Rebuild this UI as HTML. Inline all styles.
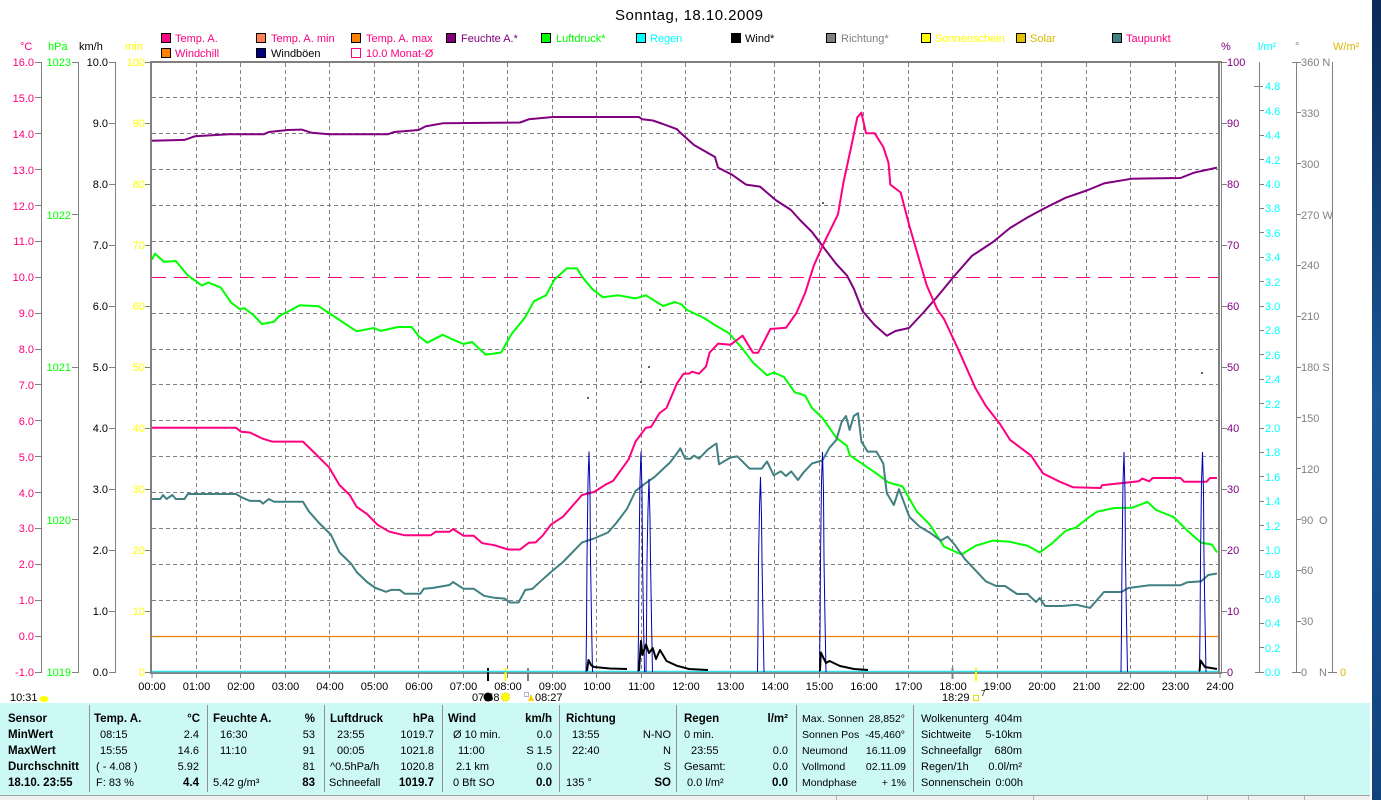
<!DOCTYPE html>
<html><head><meta charset="utf-8"><style>
html,body{margin:0;padding:0;background:#fff;}
svg{display:block;font-family:"Liberation Sans",Arial,sans-serif;}
</style></head><body>
<svg width="1381" height="800" viewBox="0 0 1381 800" xmlns="http://www.w3.org/2000/svg">
<defs><linearGradient id="bl" x1="0" y1="0" x2="0" y2="1"><stop offset="0" stop-color="#0b2a57"/><stop offset="0.5" stop-color="#1a5794"/><stop offset="1" stop-color="#10437c"/></linearGradient></defs>
<rect width="1381" height="800" fill="#fff"/>
<rect x="1372" y="0" width="9" height="800" fill="url(#bl)"/>

<!-- title -->
<text x="615" y="20" font-size="15" textLength="148" fill="#000">Sonntag, 18.10.2009</text>

<!-- legend -->
<g font-size="11" stroke-width="1">
<rect x="161.5" y="33.5" width="9" height="9" fill="#ff0080" stroke="#000"/><text x="175" y="42" fill="#ff0080">Temp. A.</text>
<rect x="256.5" y="33.5" width="9" height="9" fill="#ff8050" stroke="#000"/><text x="271" y="42" fill="#ff0080">Temp. A. min</text>
<rect x="351.5" y="33.5" width="9" height="9" fill="#ff8000" stroke="#000"/><text x="366" y="42" fill="#ff0080">Temp. A. max</text>
<rect x="446.5" y="33.5" width="9" height="9" fill="#800080" stroke="#000"/><text x="461" y="42" fill="#800080">Feuchte A.*</text>
<rect x="541.5" y="33.5" width="9" height="9" fill="#00ff00" stroke="#000"/><text x="556" y="42" fill="#00ff00">Luftdruck*</text>
<rect x="636.5" y="33.5" width="9" height="9" fill="#00ffff" stroke="#000"/><text x="650" y="42" fill="#00ffff">Regen</text>
<rect x="731.5" y="33.5" width="9" height="9" fill="#000" stroke="#000"/><text x="745" y="42" fill="#000">Wind*</text>
<rect x="826.5" y="33.5" width="9" height="9" fill="#808080" stroke="#000"/><text x="841" y="42" fill="#808080">Richtung*</text>
<rect x="921.5" y="33.5" width="9" height="9" fill="#ffff00" stroke="#000"/><text x="935" y="42" fill="#ffff00">Sonnenschein</text>
<rect x="1016.5" y="33.5" width="9" height="9" fill="#e0c000" stroke="#000"/><text x="1030" y="42" fill="#d8b800">Solar</text>
<rect x="1112.5" y="33.5" width="9" height="9" fill="#408080" stroke="#000"/><text x="1126" y="42" fill="#ff0080">Taupunkt</text>
<rect x="161.5" y="48.5" width="9" height="9" fill="#ff8000" stroke="#000"/><text x="175" y="57" fill="#ff0080">Windchill</text>
<rect x="256.5" y="48.5" width="9" height="9" fill="#000080" stroke="#000"/><text x="271" y="57" fill="#000">Windböen</text>
<rect x="351.5" y="48.5" width="9" height="9" fill="none" stroke="#ff0080"/><text x="366" y="57" fill="#ff0080">10.0 Monat-Ø</text>
</g>

<!-- unit labels -->
<g font-size="11">
<text x="20" y="50" fill="#ff0080">°C</text>
<text x="48" y="50" fill="#00ff00">hPa</text>
<text x="79" y="50" fill="#000">km/h</text>
<text x="125" y="50" fill="#ffff00">min</text>
<text x="1221" y="50" fill="#800080">%</text>
<text x="1258" y="50" fill="#00ffff">l/m²</text>
<text x="1295" y="50" fill="#808080">°</text>
<text x="1333" y="50" fill="#d8b800">W/m²</text>
</g>

<!-- grid -->
<g stroke="#808080" stroke-width="1" stroke-dasharray="4,3" shape-rendering="crispEdges">
<line x1="152" y1="97.5" x2="1218" y2="97.5"/><line x1="152" y1="133.5" x2="1218" y2="133.5"/>
<line x1="152" y1="169.5" x2="1218" y2="169.5"/><line x1="152" y1="205.5" x2="1218" y2="205.5"/>
<line x1="152" y1="241.5" x2="1218" y2="241.5"/>
<line x1="152" y1="313.5" x2="1218" y2="313.5"/><line x1="152" y1="349.5" x2="1218" y2="349.5"/>
<line x1="152" y1="384.5" x2="1218" y2="384.5"/><line x1="152" y1="420.5" x2="1218" y2="420.5"/>
<line x1="152" y1="456.5" x2="1218" y2="456.5"/><line x1="152" y1="492.5" x2="1218" y2="492.5"/>
<line x1="152" y1="528.5" x2="1218" y2="528.5"/><line x1="152" y1="564.5" x2="1218" y2="564.5"/>
<line x1="152" y1="600.5" x2="1218" y2="600.5"/>
<line x1="196.5" y1="63" x2="196.5" y2="672"/><line x1="240.5" y1="63" x2="240.5" y2="672"/>
<line x1="285.5" y1="63" x2="285.5" y2="672"/><line x1="329.5" y1="63" x2="329.5" y2="672"/>
<line x1="374.5" y1="63" x2="374.5" y2="672"/><line x1="418.5" y1="63" x2="418.5" y2="672"/>
<line x1="463.5" y1="63" x2="463.5" y2="672"/><line x1="507.5" y1="63" x2="507.5" y2="672"/>
<line x1="552.5" y1="63" x2="552.5" y2="672"/><line x1="596.5" y1="63" x2="596.5" y2="672"/>
<line x1="641.5" y1="63" x2="641.5" y2="672"/><line x1="685.5" y1="63" x2="685.5" y2="672"/>
<line x1="730.5" y1="63" x2="730.5" y2="672"/><line x1="774.5" y1="63" x2="774.5" y2="672"/>
<line x1="819.5" y1="63" x2="819.5" y2="672"/><line x1="863.5" y1="63" x2="863.5" y2="672"/>
<line x1="908.5" y1="63" x2="908.5" y2="672"/><line x1="952.5" y1="63" x2="952.5" y2="672"/>
<line x1="997.5" y1="63" x2="997.5" y2="672"/><line x1="1041.5" y1="63" x2="1041.5" y2="672"/>
<line x1="1086.5" y1="63" x2="1086.5" y2="672"/><line x1="1130.5" y1="63" x2="1130.5" y2="672"/>
<line x1="1175.5" y1="63" x2="1175.5" y2="672"/>
</g>
<line x1="152" y1="277.5" x2="1218" y2="277.5" stroke="#ff0080" stroke-width="1" stroke-dasharray="14,8" shape-rendering="crispEdges"/>

<!-- frame / axes -->
<g stroke="#808080" fill="none" shape-rendering="crispEdges">
<line x1="150" y1="62" x2="1221" y2="62" stroke-width="2"/>
<line x1="151" y1="61" x2="151" y2="674" stroke-width="2"/>
<line x1="150" y1="673" x2="1222" y2="673" stroke-width="2"/>
<line x1="1219" y1="61" x2="1219" y2="674" stroke-width="2"/>
<line x1="1221.5" y1="61" x2="1221.5" y2="674" stroke-width="1"/>
<line x1="41.5" y1="62" x2="41.5" y2="673"/>
<line x1="78.5" y1="62" x2="78.5" y2="673"/>
<line x1="115.5" y1="62" x2="115.5" y2="673"/>
<line x1="1259.5" y1="62" x2="1259.5" y2="673"/>
<line x1="1296.5" y1="62" x2="1296.5" y2="673"/>
<line x1="1332.5" y1="62" x2="1332.5" y2="673"/>
</g>
<!-- ticks -->
<g stroke="#808080" shape-rendering="crispEdges">
<path d="M35 62.5h6M35 97.5h6M35 133.5h6M35 169.5h6M35 205.5h6M35 241.5h6M35 277.5h6M35 313.5h6M35 349.5h6M35 384.5h6M35 420.5h6M35 456.5h6M35 492.5h6M35 528.5h6M35 564.5h6M35 600.5h6M35 636.5h6M35 672.5h6"/>
<path d="M72 62.5h6M72 214.5h6M72 367.5h6M72 519.5h6M72 672.5h6"/>
<path d="M109 62.5h6M109 123.5h6M109 184.5h6M109 245.5h6M109 306.5h6M109 367.5h6M109 428.5h6M109 489.5h6M109 550.5h6M109 611.5h6M109 672.5h6"/>
<path d="M145 62.5h6M145 123.5h6M145 184.5h6M145 245.5h6M145 306.5h6M145 367.5h6M145 428.5h6M145 489.5h6M145 550.5h6M145 611.5h6M145 672.5h6"/>
<path d="M1222 62.5h5M1222 123.5h5M1222 184.5h5M1222 245.5h5M1222 306.5h5M1222 367.5h5M1222 428.5h5M1222 489.5h5M1222 550.5h5M1222 611.5h5M1222 672.5h5"/>
<path d="M1254 86.5h9M1260 110.5h4M1260 135.5h4M1260 159.5h4M1260 184.5h4M1260 208.5h4M1260 232.5h4M1260 257.5h4M1260 281.5h4M1260 306.5h4M1260 330.5h4M1260 354.5h4M1260 379.5h4M1260 403.5h4M1260 428.5h4M1260 452.5h4M1260 476.5h4M1260 501.5h4M1260 525.5h4M1260 550.5h4M1260 574.5h4M1260 598.5h4M1260 623.5h4M1260 647.5h4M1255 672.5h9"/>
<path d="M1292 62.5h9M1297 112.5h4M1297 163.5h4M1297 214.5h4M1297 265.5h4M1297 316.5h4M1297 367.5h4M1297 417.5h4M1297 468.5h4M1297 519.5h4M1297 570.5h4M1297 621.5h4M1292 672.5h9"/>
<path d="M1328 672.5h9"/>
<path d="M152 673v5M196.5 673v5M240.5 673v5M285.5 673v5M329.5 673v5M374.5 673v5M418.5 673v5M463.5 673v5M507.5 673v5M552.5 673v5M596.5 673v5M641.5 673v5M685.5 673v5M730.5 673v5M774.5 673v5M819.5 673v5M863.5 673v5M908.5 673v5M997.5 673v5M1041.5 673v5M1086.5 673v5M1130.5 673v5M1175.5 673v5M1220 673v5"/>
</g>
<g shape-rendering="crispEdges">
<line x1="488" y1="668" x2="488" y2="681" stroke="#000" stroke-width="2"/>
<line x1="505.5" y1="668" x2="505.5" y2="681" stroke="#ffff00" stroke-width="2"/>
<line x1="528" y1="668" x2="528" y2="681" stroke="#808080" stroke-width="2"/>
<line x1="952.5" y1="668" x2="952.5" y2="679" stroke="#808080" stroke-width="2"/>
<line x1="976" y1="668" x2="976" y2="681" stroke="#ffff00" stroke-width="2"/>
</g>

<!-- left labels -->
<g font-size="11" text-anchor="end" fill="#ff0080">
<text x="34" y="66">16.0</text><text x="34" y="102">15.0</text><text x="34" y="138">14.0</text><text x="34" y="174">13.0</text><text x="34" y="210">12.0</text><text x="34" y="245">11.0</text><text x="34" y="281">10.0</text><text x="34" y="317">9.0</text><text x="34" y="353">8.0</text><text x="34" y="389">7.0</text><text x="34" y="425">6.0</text><text x="34" y="461">5.0</text><text x="34" y="497">4.0</text><text x="34" y="532">3.0</text><text x="34" y="568">2.0</text><text x="34" y="604">1.0</text><text x="34" y="640">0.0</text><text x="34" y="676">-1.0</text>
</g>
<g font-size="11" text-anchor="end" fill="#00ff00">
<text x="71" y="66">1023</text><text x="71" y="219">1022</text><text x="71" y="371">1021</text><text x="71" y="524">1020</text><text x="71" y="676">1019</text>
</g>
<g font-size="11" text-anchor="end" fill="#000">
<text x="108" y="66">10.0</text><text x="108" y="127">9.0</text><text x="108" y="188">8.0</text><text x="108" y="249">7.0</text><text x="108" y="310">6.0</text><text x="108" y="371">5.0</text><text x="108" y="432">4.0</text><text x="108" y="493">3.0</text><text x="108" y="554">2.0</text><text x="108" y="615">1.0</text><text x="108" y="676">0.0</text>
</g>
<g font-size="11" text-anchor="end" fill="#ffff00">
<text x="145" y="66">100</text><text x="145" y="127">90</text><text x="145" y="188">80</text><text x="145" y="249">70</text><text x="145" y="310">60</text><text x="145" y="371">50</text><text x="145" y="432">40</text><text x="145" y="493">30</text><text x="145" y="554">20</text><text x="145" y="615">10</text><text x="145" y="676">0</text>
</g>
<!-- right labels -->
<g font-size="11" fill="#800080">
<text x="1227" y="66">100</text><text x="1227" y="127">90</text><text x="1227" y="188">80</text><text x="1227" y="249">70</text><text x="1227" y="310">60</text><text x="1227" y="371">50</text><text x="1227" y="432">40</text><text x="1227" y="493">30</text><text x="1227" y="554">20</text><text x="1227" y="615">10</text><text x="1227" y="676">0</text>
</g>
<g font-size="11" fill="#00ffff">
<text x="1265" y="90">4.8</text><text x="1265" y="115">4.6</text><text x="1265" y="139">4.4</text><text x="1265" y="164">4.2</text><text x="1265" y="188">4.0</text><text x="1265" y="212">3.8</text><text x="1265" y="237">3.6</text><text x="1265" y="261">3.4</text><text x="1265" y="286">3.2</text><text x="1265" y="310">3.0</text><text x="1265" y="334">2.8</text><text x="1265" y="359">2.6</text><text x="1265" y="383">2.4</text><text x="1265" y="408">2.2</text><text x="1265" y="432">2.0</text><text x="1265" y="456">1.8</text><text x="1265" y="481">1.6</text><text x="1265" y="505">1.4</text><text x="1265" y="530">1.2</text><text x="1265" y="554">1.0</text><text x="1265" y="578">0.8</text><text x="1265" y="603">0.6</text><text x="1265" y="627">0.4</text><text x="1265" y="652">0.2</text><text x="1265" y="676">0.0</text>
</g>
<g font-size="11" fill="#808080">
<text x="1301" y="66">360 N</text><text x="1301" y="117">330</text><text x="1301" y="168">300</text><text x="1301" y="219">270 W</text><text x="1301" y="269">240</text><text x="1301" y="320">210</text><text x="1301" y="371">180 S</text><text x="1301" y="422">150</text><text x="1301" y="473">120</text><text x="1301" y="524">90</text><text x="1319" y="524">O</text><text x="1301" y="574">60</text><text x="1301" y="625">30</text><text x="1301" y="676">0</text><text x="1319" y="676">N</text>
</g>
<text x="1340" y="676" font-size="11" fill="#d8b800">0</text>

<!-- hour labels -->
<g font-size="11" text-anchor="middle" fill="#000">
<text x="152" y="690">00:00</text><text x="196.5" y="690">01:00</text><text x="241" y="690">02:00</text><text x="285.5" y="690">03:00</text><text x="330" y="690">04:00</text><text x="374.5" y="690">05:00</text><text x="419" y="690">06:00</text><text x="463.5" y="690">07:00</text><text x="508" y="690">08:00</text><text x="552.5" y="690">09:00</text><text x="597" y="690">10:00</text><text x="641.5" y="690">11:00</text><text x="686" y="690">12:00</text><text x="730.5" y="690">13:00</text><text x="775" y="690">14:00</text><text x="819.5" y="690">15:00</text><text x="864" y="690">16:00</text><text x="908.5" y="690">17:00</text><text x="953" y="690">18:00</text><text x="997.5" y="690">19:00</text><text x="1042" y="690">20:00</text><text x="1086.5" y="690">21:00</text><text x="1131" y="690">22:00</text><text x="1175.5" y="690">23:00</text><text x="1220" y="690">24:00</text>
</g>
<!-- sun/moon labels -->
<g font-size="11" fill="#000">
<text x="10" y="701">10:31</text>
<text x="472" y="701">07:58</text>
<text x="535" y="701">08:27</text>
<text x="942" y="701">18:29</text>
<text x="981" y="696" font-size="8">7</text>
</g>
<ellipse cx="44" cy="699" rx="4.5" ry="3" fill="#ffff00"/>
<circle cx="488" cy="697" r="4.5" fill="#000"/>
<circle cx="505.5" cy="697" r="4" fill="#ffff00" stroke="#f0e000" stroke-width="1.5" stroke-dasharray="1.5,1"/>
<rect x="524.5" y="692.5" width="4" height="4" fill="none" stroke="#6060c0" stroke-dasharray="1,1"/>
<path d="M528 701 L531 694 L534 701 Z" fill="#ffd000"/>
<rect x="973.5" y="695.5" width="5" height="5" fill="none" stroke="#e8e000"/>

<!-- series -->
<line x1="152" y1="636.5" x2="1218" y2="636.5" stroke="#f08000" stroke-width="1.2"/>
<line x1="152" y1="671.5" x2="1218" y2="671.5" stroke="#30e0e8" stroke-width="1.5"/>
<g fill="none" stroke-width="2" stroke-linejoin="round">
<polyline stroke="#800080" points="151.7,140.7 184.4,139.9 194.8,136.3 229,134.3 263.6,134.3 268.8,132 287.7,130 301.5,129.6 311.8,132.8 329,134.3 387.6,134.3 394.5,132 418.6,130 425.5,126.4 442.7,123.3 520,122.5 528.8,119.3 552.9,117 639,117 642.4,119.3 652.8,120.5 663,124 677,129.2 680,132.4 694,145 715,157 718,167.6 732,174.7 746,184.6 760,186.6 775.6,200 791,210 800,220 812,232 822.5,246 836,263.7 847,275.6 854,289 862.5,311 874.6,325 886.8,335.7 895.5,331 909,328 923,313 937,297 954.6,275.6 972,255.8 993,242 1010,228 1027.6,217.4 1045,208 1065.8,197.7 1086.7,190.5 1104,183.4 1132,178.7 1180.5,178 1194,172.7 1217,167.6"/>
<polyline stroke="#00ff00" points="151.7,259.7 155,253.7 163.8,261.7 175.8,261 187.9,275.5 201.7,285.4 208.5,282.6 220.6,287.4 231,302.4 239.5,309 244.7,308.3 253.3,315 261.9,324 274,321.8 279,316.2 291,310 299.8,305.2 318.7,306.3 329,313 341,321 356.6,331.3 373.8,328 380.7,330.9 398,327 411.7,327 418.6,336 427.2,342.7 442.7,334.8 453,339.6 463.4,344 472,342 485.7,354.6 501,352.6 511.6,334 525.3,317 534,301.2 546,295.3 554.6,279.5 566.7,268.4 577,268.4 582,276.7 592.5,289.3 602.8,297.2 618.3,295.3 635.5,298.4 645.9,295.3 663,306 675,302 681.7,304.5 687,310 704,318 714.8,325 728.7,333 742.6,348.8 753,362.6 767,375.3 773.8,372.5 784,377 794.7,392.3 805,395.4 812,408 822.5,418 836.4,437.8 846.8,445.7 850,455.6 867.7,467.4 876.4,473.4 888.5,482.5 902.5,486.4 916.4,511 930,524.8 944,546.6 961.5,554.5 975.5,545.8 992.8,540.6 1010,541.8 1027.6,545.8 1039.7,552.5 1052,543.4 1065.8,530.7 1076,527.6 1086.7,518.9 1097,511.7 1114.5,508 1132,507.8 1147.5,501.8 1156,510 1173.6,517 1187.5,530.7 1201,542.6 1212,544.6 1217,552.5"/>
<polyline stroke="#408080" points="151.7,499 160.3,499 163,495 166.5,499 172.4,495 175.8,499 184.4,499 187.9,494 236,494 241,497 249.9,500.9 260,500.9 263,503.6 268.8,499 274,501.7 303,501.7 308.4,510.8 318.7,522.6 330.8,534.5 339.4,552.3 351.4,564 356.6,572 367,582 375.6,588 386,591.8 391,589.9 399.7,589.9 404.8,593.8 420.3,593.8 423.8,588.7 432.4,588 449.6,585 453,582 463.4,588.7 473.7,588.7 484,595.8 494.4,597.8 504.7,598.6 509.8,602.5 518.5,602.5 525.3,589.9 532.2,589 539,582.7 551,572 563,562 582,542.4 594,538.5 608,532.5 616.6,522.6 627,508.8 635.5,491 645.9,483 654.5,477 663,469 670,462.5 676.9,453.4 680.3,448.3 685.2,458.7 690.4,458.7 694,455.6 699,458.7 707.8,449.6 714.8,444.5 716.5,443.7 719,464.3 730.4,457.5 737.4,456.4 749.5,468.6 761.7,468.6 767,461.5 773.8,475.3 780.8,471.4 786,476 791.2,471.4 798,480 803.4,472.6 812,463.5 822.5,460.3 829.5,447.7 836.4,439.8 841.6,422 846,416 849.6,429.9 853.8,416 858,413.2 861.4,441.7 867.7,451.6 876.4,451.6 883.3,463.5 886.8,493.2 893.8,505 899,489.2 909.4,516.9 919.8,526.8 930,532.7 940.7,540.6 947.6,536.6 954.6,544.6 965,559.2 975.5,570.3 985.9,581.4 996.3,586 1005,586 1017,594 1027.6,594 1036,602 1039.7,598 1045,606 1062,606 1076,604.7 1090,607.9 1097,600 1104,592 1121.4,592 1128.4,588 1149.2,585.3 1180.5,585.3 1187.5,582.2 1201,581.4 1208.3,575 1217,573.5"/>
<polyline stroke="#ff0080" points="151.7,427.7 236,427.7 241,431.7 249.9,432.5 262,438.4 272,441.6 303,441.6 315,453.4 329,467.3 339.4,485 349.7,495 356.6,506.8 367,514 377.3,524.6 389.3,531.7 404.8,535.3 430.6,535.3 435.8,531.7 449.6,531.7 453,529 463.4,535.7 473.7,535.7 482.3,543.2 494.4,545.2 508,549.5 520,549.5 528.8,542.8 535.7,542.4 542.6,535.7 551,524.6 563,516.7 582,495 594,492 606,484.3 613,481 628.6,459.4 635.5,441.6 645.9,427.7 651,427 659.6,413 666.5,408 677,383.4 683.7,373.6 689,373.6 692,371.7 699,373.7 706,366.6 709.5,352.7 718.2,343.6 730.4,344.8 742.6,335.7 753,352.7 758.2,352.7 770.4,329 786,327.8 796.4,313 805,293.4 813.8,265.7 822.5,246 838,214.3 843.4,182.6 850.3,151 857.3,117.4 861.4,112.6 866,133.2 874.6,133.2 883.3,147 888.5,162.8 890.3,184.6 900.7,192.5 909.4,226 919.8,261.7 926.8,285.5 937.2,309.2 944,319 958,348.8 975.5,388.3 985.9,406 1000,424 1010,439.8 1031,455.6 1043,473.4 1058.9,481.3 1072.8,487.2 1100.6,488 1102,485.2 1138.8,481.3 1142.3,478.5 1149.2,481.3 1152.7,478 1180.5,478 1184,481.7 1206.6,481.7 1210,478 1217,478"/>
</g>
<g fill="none" stroke="#0000b0" stroke-width="1">
<polyline points="586,672 586.5,630 587,560 588,481 589,451.5 590,491 590.5,560 591.5,620 592.5,672"/>
<polyline points="638,672 638.5,630 639,560 640,481 641,451.5 642,491 642.5,560 643.5,620 644.5,672"/>
<polyline points="646,672 646.5,630 647,560 648,509 649,479 650,519 650.5,560 651.5,620 652.5,672"/>
<polyline points="757.5,672 758,630 758.5,560 759.5,507 760.5,477 761.5,517 762,560 763,620 764,672"/>
<polyline points="819.5,672 820,630 820.5,560 821.5,482 822.5,452 823.5,492 824,560 825,620 826,672"/>
<polyline points="1121,672 1121.5,630 1122,560 1123,482 1124,452 1125,492 1125.5,560 1126.5,620 1127.5,672"/>
<polyline points="1199.5,672 1200,630 1200.5,560 1201.5,482 1202.5,452 1203.5,492 1204,560 1205,620 1206,672"/>
</g>
<g fill="none" stroke="#000" stroke-width="2" stroke-linejoin="round">
<polyline points="587,671 588.5,660 591,665 594,667 610,668.5 627,669"/>
<polyline points="639,671 641,641 642.4,655 646,644.5 649,653 652.7,648 656,659 660,650 666.5,661 677,665.8 689,669 708,670"/>
<polyline points="820,671 820.8,652.5 826,663 829.5,661 840,666 854,669 868,670"/>
<polyline points="1199.5,671 1200.5,660.5 1205,667 1217,669"/>
</g>
<g fill="#606060">
<rect x="587" y="397" width="2" height="2"/><rect x="648" y="366" width="2" height="2"/><rect x="659" y="309" width="2" height="2"/><rect x="822" y="202" width="2" height="2"/><rect x="1201" y="372" width="2" height="2"/><rect x="640" y="381" width="2" height="2"/>
</g>

<!-- table -->
<rect x="0" y="703" width="1370" height="92" fill="#ccf8f6"/>
<rect x="0" y="795" width="1370" height="5" fill="#f0f0f0"/>
<line x1="0" y1="795.5" x2="1370" y2="795.5" stroke="#a0a0a0"/>
<g stroke="#909090" shape-rendering="crispEdges">
<path d="M89.5 705v87M207.5 705v87M324.5 705v87M442.5 705v87M559.5 705v87M676.5 705v87M796.5 705v87M913.5 705v87"/>
<path d="M836.5 796v4M1033.5 796v4M1207.5 796v4M1248.5 796v4M1304.5 796v4" stroke="#b0b0b0"/>
</g>
<g font-size="11.5" font-weight="bold" fill="#000">
<text x="8" y="722">Sensor</text><text x="8" y="738">MinWert</text><text x="8" y="754">MaxWert</text><text x="8" y="770">Durchschnitt</text><text x="8" y="786">18.10. 23:55</text>
<text x="94" y="722">Temp. A.</text><text x="213" y="722">Feuchte A.</text><text x="330" y="722">Luftdruck</text><text x="448" y="722">Wind</text><text x="566" y="722">Richtung</text><text x="684" y="722">Regen</text>
<g text-anchor="end">
<text x="200" y="722">°C</text><text x="315" y="722">%</text><text x="434" y="722">hPa</text><text x="552" y="722">km/h</text><text x="788" y="722">l/m²</text>
<text x="199" y="786">4.4</text><text x="315" y="786">83</text><text x="434" y="786">1019.7</text><text x="552" y="786">0.0</text><text x="671" y="786">SO</text><text x="788" y="786">0.0</text>
</g>
</g>
<g font-size="11" fill="#000">
<text x="100" y="738">08:15</text><text x="100" y="754">15:55</text><text x="96" y="770">( - 4.08 )</text><text x="96" y="786">F: 83 %</text>
<text x="220" y="738">16:30</text><text x="220" y="754">11:10</text><text x="213" y="786">5.42 g/m³</text>
<text x="337" y="738">23:55</text><text x="337" y="754">00:05</text><text x="330" y="770">^0.5hPa/h</text><text x="329" y="786">Schneefall</text>
<text x="453" y="738">Ø 10 min.</text><text x="458" y="754">11:00</text><text x="456" y="770">2.1 km</text><text x="453" y="786">0 Bft SO</text>
<text x="572" y="738">13:55</text><text x="572" y="754">22:40</text><text x="566" y="786">135 °</text>
<text x="684" y="738">0 min.</text><text x="691" y="754">23:55</text><text x="684" y="770">Gesamt:</text><text x="687" y="786">0.0 l/m²</text>
<g font-size="10.5">
<text x="802" y="722">Max. Sonnen</text><text x="802" y="738">Sonnen Pos</text><text x="802" y="754">Neumond</text><text x="802" y="770">Vollmond</text><text x="802" y="786">Mondphase</text>
</g>
<text x="921" y="722">Wolkenunterg</text><text x="921" y="738">Sichtweite</text><text x="921" y="754">Schneefallgr</text><text x="921" y="770">Regen/1h</text><text x="921" y="786">Sonnenschein</text>
<g text-anchor="end">
<text x="199" y="738">2.4</text><text x="199" y="754">14.6</text><text x="199" y="770">5.92</text>
<text x="315" y="738">53</text><text x="315" y="754">91</text><text x="315" y="770">81</text>
<text x="434" y="738">1019.7</text><text x="434" y="754">1021.8</text><text x="434" y="770">1020.8</text>
<text x="552" y="738">0.0</text><text x="552" y="754">S 1.5</text><text x="552" y="770">0.0</text>
<text x="671" y="738">N-NO</text><text x="671" y="754">N</text><text x="671" y="770">S</text>
<text x="788" y="754">0.0</text><text x="788" y="770">0.0</text>
<g font-size="10.5">
<text x="905" y="722">28,852°</text><text x="905" y="738">-45,460°</text><text x="906" y="754">16.11.09</text><text x="906" y="770">02.11.09</text><text x="906" y="786">+ 1%</text>
</g>
<text x="1022" y="722">404m</text><text x="1022" y="738">5-10km</text><text x="1022" y="754">680m</text><text x="1022" y="770">0.0l/m²</text><text x="1023" y="786">0:00h</text>
</g>
</g>
</svg>
</body></html>
